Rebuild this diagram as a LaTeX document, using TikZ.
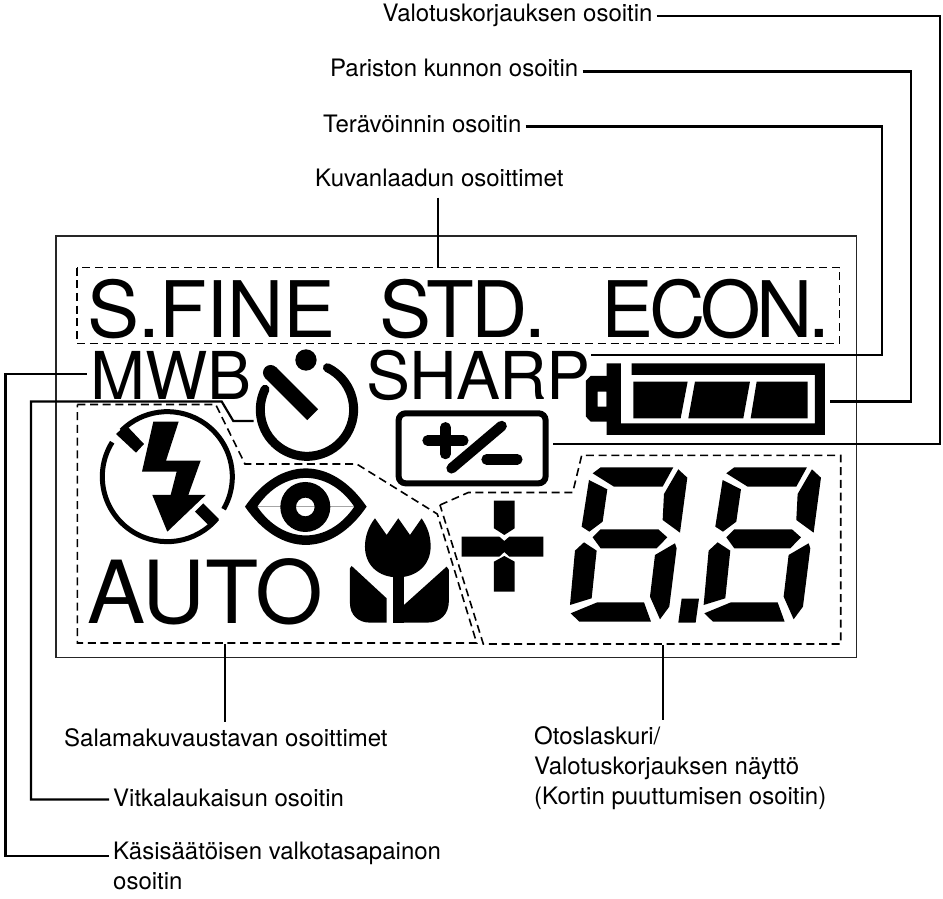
\documentclass[tikz,border=0pt]{standalone}
\usepackage{fontspec}
\setmainfont{TeX Gyre Heros}
\newcommand{\lcddigit}{
	\fill (458,400) -- (482,382) -- (700,382) -- (668,440) -- (522,440) -- cycle;
	\fill (715,388) -- (742,413) -- (720,578) -- (668,540) -- (672,462) -- cycle;
	\fill (447,420) -- (502,448) -- (488,545) -- (448,575) -- (425,560) -- cycle;
	\fill (482,568) -- (655,568) -- (682,592) -- (650,625) -- (482,625) -- (458,592) -- cycle;
	\fill (432,607) -- (470,632) -- (455,775) -- (390,795) -- (405,632) -- cycle;
	\fill (705,610) -- (710,625) -- (688,800) -- (660,838) -- (630,770) -- (645,645) -- cycle;
	\fill (392,820) -- (472,787) -- (612,787) -- (633,845) -- (418,845) -- cycle;
}
\begin{document}
\begin{tikzpicture}[
	x=1pt,y=-1pt,
	lbl/.style={anchor=base west,inner sep=0pt,align=left,font=\fontsize{24}{30}\selectfont},
	bigtext/.style 2 args={anchor=base west,inner sep=0pt,font=\fontsize{#1}{#1}\selectfont\addfontfeature{LetterSpace=#2}},
	wire/.style={draw,line width=2.2pt,line join=miter},
	dashbox/.style={draw,line width=1.6pt,dash pattern=on 8pt off 4.7pt}
	]
	\useasboundingbox (0,0) rectangle (943,899);
	\draw[line width=1.2pt,black!85] (56,236) rectangle (856.5,657.5);
	% dashed groups
	\draw[dashbox] (76.7,267.5) rectangle (839.5,343.3);
	\draw[dashbox] (77.3,404.5) -- (215.7,404.5) -- (245,464) -- (356.7,464) -- (437.3,514) -- (476.7,643) -- (77.3,643) -- cycle;
	\draw[dashbox] (440,505) -- (468.3,492.5) -- (572.7,492.5) -- (581.7,455.3) -- (840.7,455.3) -- (840.7,644) -- (483.3,644) -- cycle;
	% texts in the panel
	\node[bigtext={78}{-0.8}] (sfine) at (87,337.5) {S.FINE};
	\node[bigtext={78}{-3.4}] (std) at (379,337.5) {STD.};
	\node[bigtext={78}{-5.5}] (econ) at (601,337.5) {ECON.};
	\node[bigtext={66}{0}] (mwb) at (90,399.5) {MWB};
	\node[bigtext={66}{-1.2}] (sharp) at (366,399.5) {SHARP};
	\node[bigtext={87}{0}] (auto) at (87.5,623.5) {AUTO};
	% icons, first half of the panel
	\begin{scope}[shift={(50,340)},x=0.3333pt,y=-0.3333pt]
		% flash
		\draw[line width=5pt] (352,410) ++(-148:195) arc[start angle=-148,end angle=-320,radius=195];
		\draw[line width=5pt] (352,410) ++(30:195) arc[start angle=30,end angle=-135,radius=195];
		\fill (198,282) -- (228,255) -- (282,312) -- (258,338) -- cycle;
		\fill (435,515) -- (460,490) -- (507,537) -- (482,562) -- cycle;
		\fill (310,245) -- (386,245) -- (348,362) -- (452,362) -- (415,465) -- (467,465) -- (352,575) -- (307,465) -- (362,465) -- (380,395) -- (276,395) -- cycle;
		% timer
		\draw[line width=9pt,line cap=round] (771,209) ++(-64:140) arc[start angle=-64,end angle=206,radius=140];
		\fill (768,60) circle (32);
		\fill (662,98) circle (23);
		\draw[line width=15.5pt] (662,98) -- (788,224);
		% plus and minus box
		\draw[line width=6pt,rounded corners=7pt] (1046,220) rectangle (1487,430);
		\draw[line width=10.5pt,line cap=round] (1133,302) -- (1240,302);
		\draw[line width=10.5pt,line cap=round] (1186,262) -- (1186,342);
		\draw[line width=10.5pt,line cap=round] (1205,385) -- (1355,258);
		\draw[line width=10.5pt,line cap=round] (1310,358) -- (1402,358);
		% eye
		\draw[line width=0.5pt,black!35] (600,500) -- (930,500);
		\fill[even odd rule] (585,500) .. controls (690,347) and (845,347) .. (950,500) .. controls (845,653) and (690,653) .. cycle
			(622,500) .. controls (700,385) and (835,385) .. (913,500) .. controls (835,615) and (700,615) .. cycle;
		\fill[even odd rule] (766,501) circle (75) (766,501) circle (28);
		% tulip
		\fill (975,535) -- (1010,585) -- (1045,535) -- (1080,585) -- (1115,535) .. controls (1135,565) and (1142,590) .. (1142,620) .. controls (1142,675) and (1100,712) .. (1043,712) .. controls (985,712) and (945,675) .. (945,620) .. controls (945,590) and (955,560) .. cycle;
		\fill (1028,700) rectangle (1062,848);
		\fill (905,678) -- (1010,775) -- (1010,848) -- (960,848) .. controls (925,848) and (900,825) .. (900,790) -- (900,685) -- cycle;
		\fill (1030,848) -- (1030,800) -- (1062,795) -- (1190,680) -- (1197,690) -- (1197,780) .. controls (1197,825) and (1170,848) .. (1130,848) -- cycle;
	\end{scope}
	% icons, second half of the panel
	\begin{scope}[shift={(440,340)},x=0.3333pt,y=-0.3333pt]
		% battery
		\fill (500,70) -- (543,70) -- (543,250) -- (1125,250) -- (1125,105) -- (575,105) -- (575,70) -- (1155,70) -- (1155,285) -- (500,285) -- cycle;
		\fill[even odd rule] (510,108) -- (452,108) -- (438,122) -- (438,230) -- (452,245) -- (510,245) -- cycle (473,155) rectangle (500,200);
		\fill (580,125) -- (743,125) -- (722,235) -- (580,235) -- cycle;
		\fill (765,125) -- (930,125) -- (910,235) -- (745,235) -- cycle;
		\fill (950,125) -- (1103,125) -- (1103,235) -- (932,235) -- cycle;
		% plus
		\fill (162,482) -- (224,482) -- (224,565) -- (193,585) -- (162,565) -- cycle;
		\fill (162,665) -- (193,648) -- (224,665) -- (224,755) -- (162,755) -- cycle;
		\fill (65,590) -- (178,590) -- (193,603) -- (208,590) -- (310,590) -- (310,650) -- (208,650) -- (193,636) -- (178,650) -- (65,650) -- cycle;
		% digits
		\foreach \dx in {0,401}{
			\begin{scope}[shift={(\dx,0)}]
				\lcddigit
			\end{scope}
		}
		\fill (725,776) -- (777,776) -- (767,848) -- (715,848) -- cycle;
	\end{scope}
	% labels
	\node[lbl] (valo) at (382.5,21.5) {Valotuskorjauksen osoitin};
	\node[lbl] (paristo) at (330,77) {Pariston kunnon osoitin};
	\node[lbl] (tera) at (323,132) {Terävöinnin osoitin};
	\node[lbl] (kuva) at (315,186) {Kuvanlaadun osoittimet};
	\node[lbl] (salama) at (64,746) {Salamakuvaustavan osoittimet};
	\node[lbl] (vitka) at (113,806) {Vitkalaukaisun osoitin};
	\node[lbl,anchor=north west] (kasi) at (113,842) {Käsisäätöisen valkotasapainon\\osoitin};
	\node[lbl,anchor=north west] (otos) at (534,726) {Otoslaskuri/\\Valotuskorjauksen näyttö\\(Kortin puuttumisen osoitin)};
	% connector ends
	\coordinate (sharpend) at (590.5,355);
	\coordinate (battend) at (830,401.5);
	\coordinate (pmend) at (553,444);
	\coordinate (timerend) at (253.5,421);
	\draw[wire] ([shift={(4,-5.5)}]valo.base east) -| (940,444) -- (pmend);
	\draw[wire] ([shift={(4,-5.5)}]paristo.base east) -| (911,401.5) -- (battend);
	\draw[wire] ([shift={(4,-5.5)}]tera.base east) -| (882,355) -- (sharpend);
	\draw[wire] ([yshift=-11pt]kuva.south -| 437.8,0) -- (437.8,268);
	\draw[wire] (225.3,644) -- ([yshift=6pt]salama.north -| 225.3,0);
	\draw[wire] (662.8,645) -- ([yshift=6pt]otos.north -| 662.8,0);
	\draw[wire] ([shift={(-4,-6.5)}]vitka.base west) -| (31,401.5) -- (221.7,401.5) -- (233.3,421) -- (timerend);
	\draw[wire] ([shift={(-4,14)}]kasi.north west) -| (5.5,374) -- (86.7,374);
\end{tikzpicture}
\end{document}
